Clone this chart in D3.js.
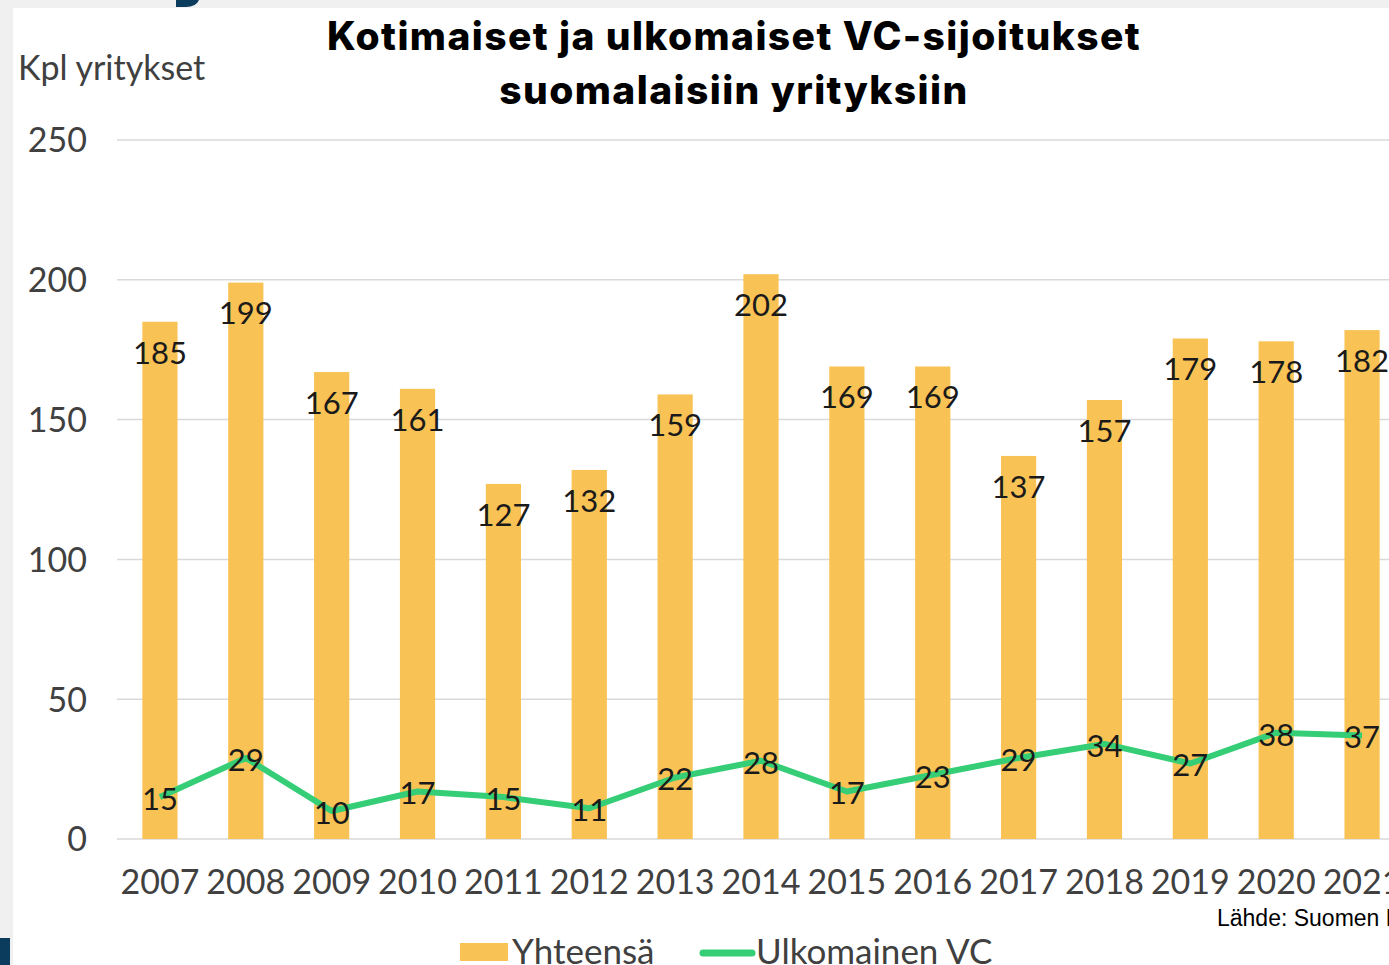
<!DOCTYPE html>
<html><head><meta charset="utf-8">
<script src="https://cdn.jsdelivr.net/npm/d3@7"></script>
<style>
html,body{margin:0;padding:0;background:#f0f0f0;overflow:hidden;}
svg{display:block;}
</style></head>
<body>
<svg id="c" width="1389" height="965"></svg>
<script>
const years = ["2007","2008","2009","2010","2011","2012","2013","2014","2015","2016","2017","2018","2019","2020","2021"];
const totals = [185,199,167,161,127,132,159,202,169,169,137,157,179,178,182];
const foreign = [15,29,10,17,15,11,22,28,17,23,29,34,27,38,37];
const yTicks = [0,50,100,150,200,250];
const titleLines = ["Kotimaiset ja ulkomaiset VC-sijoitukset","suomalaisiin yrityksiin"];
const yAxisTitle = "Kpl yritykset";
const seriesNames = ["Yhteensä","Ulkomainen VC"];
const sourceText = "Lähde: Suomen Pääomasijoitusyhdistys";

const barColor = "#F9C254", lineColor = "#35CE77";
const font = "Lato, 'Open Sans', sans-serif";
const svg = d3.select("#c");

// background panel
svg.append("rect").attr("x",0).attr("y",0).attr("width",1389).attr("height",965).attr("fill","#f0f0f0");
svg.append("rect").attr("x",13).attr("y",8).attr("width",1376).attr("height",957).attr("fill","#ffffff");
svg.append("rect").attr("x",0).attr("y",938).attr("width",10).attr("height",27).attr("fill","#0b3c5d");
svg.append("path").attr("d","M176,0 L199,0 Q196,7 186,7 L176,7 Z").attr("fill","#0b3c5d");

const x = d3.scaleBand().domain(years).range([117,1405]).paddingInner(0.59).paddingOuter(0.295);
const y = d3.scaleLinear().domain([0,250]).range([839,140]);

// gridlines
svg.append("g").selectAll("line").data(yTicks).join("line")
  .attr("x1",117).attr("x2",1405).attr("y1",d=>y(d)).attr("y2",d=>y(d))
  .attr("stroke","#d9d9d9").attr("stroke-width",1.5);

// y axis labels
const yAxis = d3.axisLeft(y).tickValues(yTicks).tickSize(0).tickPadding(0);
const ya = svg.append("g").attr("transform","translate(87,0)").call(yAxis);
ya.select(".domain").remove();
ya.selectAll("text").attr("font-family",font).attr("font-size",34).attr("fill","#404040").attr("dy","0.35em");

// x axis labels
const xAxis = d3.axisBottom(x).tickSize(0).tickPadding(0);
const xa = svg.append("g").attr("transform","translate(0,870)").call(xAxis);
xa.select(".domain").remove();
xa.selectAll("text").attr("font-family",font).attr("font-size",34).attr("fill","#404040").attr("dy","0.72em");

// bars
svg.append("g").selectAll("rect").data(totals).join("rect")
  .attr("x",(d,i)=>x(years[i])).attr("width",x.bandwidth())
  .attr("y",d=>y(d)).attr("height",d=>y(0)-y(d)).attr("fill",barColor);

// bar labels
svg.append("g").selectAll("text").data(totals).join("text")
  .attr("x",(d,i)=>x(years[i])+x.bandwidth()/2).attr("y",d=>y(d)+31)
  .attr("dy","0.35em").attr("text-anchor","middle")
  .attr("font-family",font).attr("font-size",31).attr("fill","#1a1a1a").text(d=>d);

// line
const line = d3.line().x((d,i)=>x(years[i])+x.bandwidth()/2).y(d=>y(d));
svg.append("path").datum(foreign).attr("d",line).attr("fill","none")
  .attr("stroke",lineColor).attr("stroke-width",6).attr("stroke-linejoin","round");

svg.append("g").selectAll("text").data(foreign).join("text")
  .attr("x",(d,i)=>x(years[i])+x.bandwidth()/2).attr("y",d=>y(d)+2)
  .attr("dy","0.35em").attr("text-anchor","middle")
  .attr("font-family",font).attr("font-size",31).attr("fill","#1a1a1a").text(d=>d);

// title
svg.append("g").selectAll("text").data(titleLines).join("text")
  .attr("x",734).attr("y",(d,i)=>36+i*54).attr("dy","0.35em").attr("text-anchor","middle")
  .attr("font-family","Inter, 'Open Sans', sans-serif").attr("font-weight",800).attr("font-size",39)
  .attr("letter-spacing",1.4).attr("fill","#000").text(d=>d);

// y axis title
svg.append("text").attr("x",18).attr("y",68).attr("dy","0.35em")
  .attr("font-family",font).attr("font-size",34).attr("fill","#404040").text(yAxisTitle);

// source
svg.append("text").attr("x",1217).attr("y",918).attr("dy","0.35em")
  .attr("font-family","'Liberation Sans', sans-serif").attr("font-size",23).attr("fill","#000").text(sourceText);

// legend
const lg = svg.append("g");
lg.append("rect").attr("x",460).attr("y",943).attr("width",48).attr("height",18).attr("fill",barColor);
lg.append("text").attr("x",512).attr("y",952).attr("dy","0.35em").attr("font-family",font).attr("font-size",35).attr("fill","#404040").text(seriesNames[0]);
lg.append("line").attr("x1",703).attr("x2",752).attr("y1",953).attr("y2",953).attr("stroke",lineColor).attr("stroke-width",7).attr("stroke-linecap","round");
lg.append("text").attr("x",756).attr("y",952).attr("dy","0.35em").attr("font-family",font).attr("font-size",35).attr("fill","#404040").text(seriesNames[1]);
</script>
</body></html>
